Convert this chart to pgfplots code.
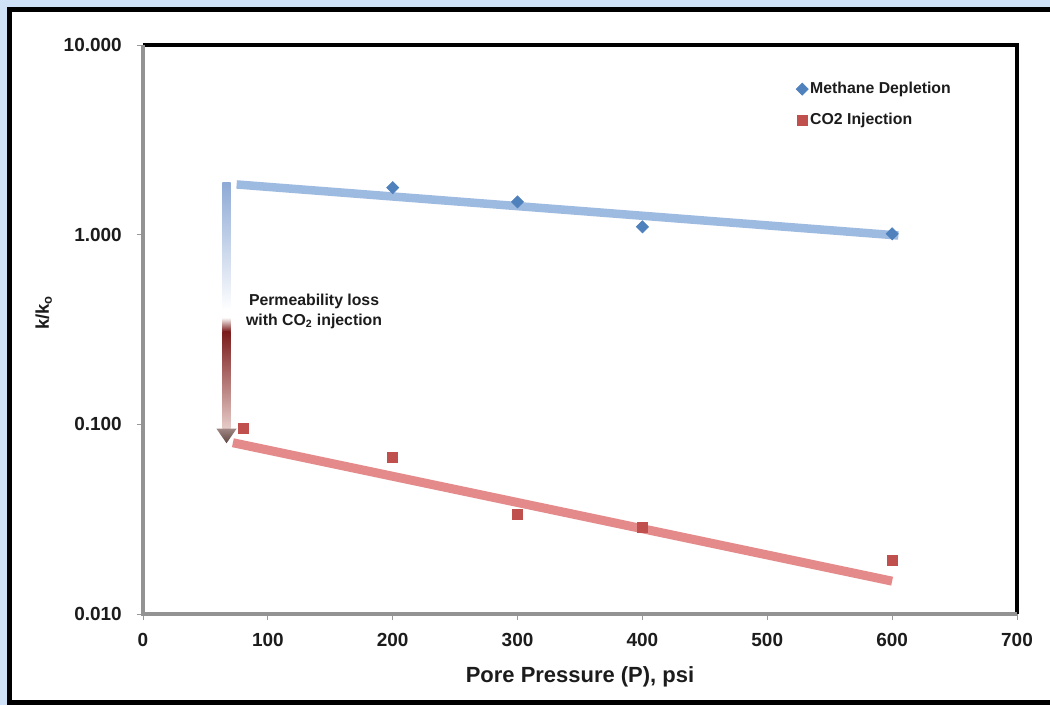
\documentclass[border=0pt]{standalone}
\usepackage{fontspec}
\setmainfont{Liberation Sans}
\usepackage{pgfplots}
\pgfplotsset{compat=1.18}

\definecolor{frameblue}{HTML}{CFE1F6}
\definecolor{mblue}{HTML}{4F81BD}
\definecolor{mbluetrend}{HTML}{9DBAE0}
\definecolor{cred}{HTML}{C0504D}
\definecolor{credtrend}{HTML}{E48A8B}
\definecolor{txt}{HTML}{1C1C1C}
\definecolor{arrblueL}{HTML}{8FAAD6}
\definecolor{arrblueD}{HTML}{5A84BD}
\definecolor{arrredD}{HTML}{7A1B1B}
\definecolor{arrredM}{HTML}{C24D4D}
\definecolor{arrredL}{HTML}{E6CCC8}
\definecolor{arrheadL}{HTML}{A08682}
\definecolor{arrheadD}{HTML}{5E4642}

\begin{document}
\begin{tikzpicture}
% frame; 1 px of the reference = 0.2 mm
\path[use as bounding box] (0,0) rectangle (210mm,141mm);
\fill[frameblue] (0,0) rectangle (210mm,141mm);
\fill[white] (1.9mm,0.6mm) rectangle (210mm,139.1mm);
\draw[black, line width=1mm] (210mm,139.1mm) -- (1.9mm,139.1mm) -- (1.9mm,0.6mm) -- (210mm,0.6mm);

\begin{axis}[
  at={(28.6mm,18.2mm)}, anchor=south west,
  scale only axis, width=174.8mm, height=113.8mm,
  xmin=0, xmax=700, ymode=log, ymin=0.01, ymax=10,
  xtick={0,100,...,700},
  xticklabels={0,100,200,300,400,500,600,700},
  ytick={0.01,0.1,1,10},
  yticklabels={0.010,0.100,1.000,10.000},
  yminorticks=false,
  axis line style={draw=none},
  tick align=outside, tick pos=left,
  major tick length=1.2mm,
  tick style={draw=gray!80, line width=0.5pt},
  /pgf/number format/assume math mode=true,
  ticklabel style={font=\fontsize{10.8}{13}\selectfont\bfseries, text=txt},
  xticklabel style={yshift=-1.5mm},
  yticklabel style={xshift=-1.8mm},
  xlabel={Pore Pressure (P), psi},
  ylabel={k/k\textsubscript{o}},
  label style={font=\fontsize{12.5}{15}\selectfont\bfseries, text=txt},
  xlabel style={at={(axis description cs:0.5,-0.1195)}, anchor=base},
  ylabel style={at={(axis description cs:-0.1136,0.53)}, anchor=center,
                font=\fontsize{10.5}{12}\selectfont\bfseries},
  clip=false,
  legend style={at={(axis description cs:0.747,0.939)}, anchor=north west,
                draw=none, fill=none, font=\fontsize{9}{11}\selectfont\bfseries,
                text=txt, row sep=2.6mm, inner sep=0pt, nodes={inner sep=0.4mm}},
  legend cell align=left,
  legend image code/.code={\draw[#1] plot coordinates {(0.9mm,0mm)};},
]
% trend lines
\addplot[forget plot, draw=mbluetrend, line width=1.7mm] coordinates {(75,1.84) (605,0.99)};
\addplot[forget plot, draw=credtrend, line width=1.8mm] coordinates {(72,0.080) (600,0.0149)};
% data
\addplot[only marks, mark=square*, mark size=0.85mm,
         mark options={rotate=45, fill=mblue, draw=mblue}]
  coordinates {(200,1.77) (300,1.49) (400,1.10) (600,1.01)};
\addplot[only marks, mark=square*, mark size=1mm,
         mark options={fill=cred, draw=cred}]
  coordinates {(80,0.095) (200,0.067) (300,0.0336) (400,0.0287) (600,0.0192)};
\legend{Methane Depletion, CO2 Injection}

% permeability-loss arrow
\shade[top color=arrblueL, middle color=arrblueD, bottom color=white]
  (axis cs:63.6,1.88) rectangle (axis cs:70.2,0.40);
\shade[top color=white, bottom color=arrredD]
  (axis cs:63.6,0.366) rectangle (axis cs:70.2,0.309);
\shade[top color=arrredD, middle color=arrredM, bottom color=arrredL]
  (axis cs:63.6,0.309) rectangle (axis cs:70.2,0.095);
\shade[top color=arrheadL, bottom color=arrheadD]
  (axis cs:58.8,0.095) -- (axis cs:75.0,0.095) -- (axis cs:66.9,0.0795) -- cycle;
\node[align=center, font=\fontsize{9}{11.5}\selectfont\bfseries, text=txt]
  at (axis cs:137,0.393) {Permeability loss\\with CO\textsubscript{2} injection};

% axis frame: grey left/bottom, black top/right
\draw[black, line width=0.65mm] (rel axis cs:0,1) -- (rel axis cs:1,1) -- (rel axis cs:1,0);
\draw[gray!85, line width=0.65mm] (rel axis cs:1,0) -- (rel axis cs:0,0) -- (rel axis cs:0,1);
\end{axis}
\end{tikzpicture}
\end{document}
